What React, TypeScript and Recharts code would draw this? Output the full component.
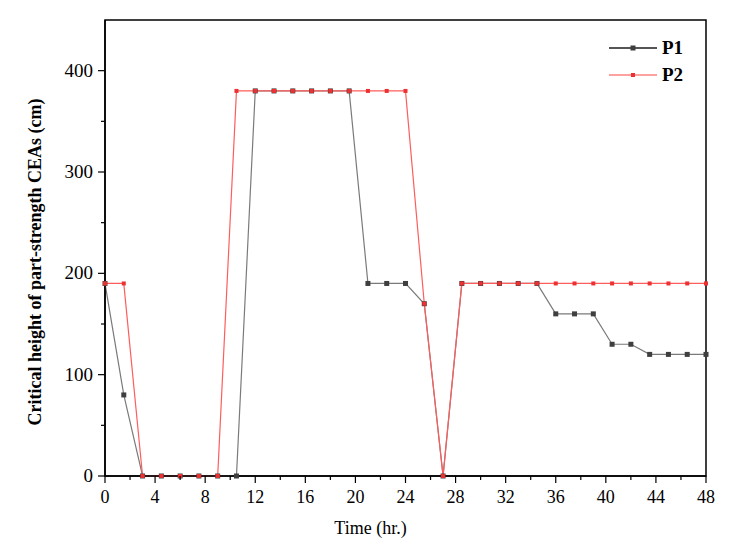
import { Legend, Line, LineChart, ReferenceArea, XAxis, YAxis } from 'recharts'

const TIME = [
  0, 1.5, 3, 4.5, 6, 7.5, 9, 10.5, 12, 13.5, 15, 16.5, 18, 19.5, 21, 22.5, 24,
  25.5, 27, 28.5, 30, 31.5, 33, 34.5, 36, 37.5, 39, 40.5, 42, 43.5, 45, 46.5, 48,
]

const P1 = [
  190, 80, 0, 0, 0, 0, 0, 0, 380, 380, 380, 380, 380, 380, 190, 190, 190,
  170, 0, 190, 190, 190, 190, 190, 160, 160, 160, 130, 130, 120, 120, 120, 120,
]

const P2 = [
  190, 190, 0, 0, 0, 0, 0, 380, 380, 380, 380, 380, 380, 380, 380, 380, 380,
  170, 0, 190, 190, 190, 190, 190, 190, 190, 190, 190, 190, 190, 190, 190, 190,
]

const X_TICKS = [0, 2, 4, 6, 8, 10, 12, 14, 16, 18, 20, 22, 24, 26, 28, 30, 32, 34, 36, 38, 40, 42, 44, 46, 48]
const Y_TICKS = [0, 50, 100, 150, 200, 250, 300, 350, 400]

const SERIES = [
  { key: 'P1', color: '#7a7a7a', legend: '#555555', marker: '#3f3f3f', size: 5 },
  { key: 'P2', color: '#ff5c5c', legend: '#ff4545', marker: '#ee3030', size: 4 },
]

const FONT = '"Liberation Serif", "Times New Roman", serif'

const data = TIME.map((t, i) => ({ t, P1: P1[i], P2: P2[i] }))

function XTick(props: any) {
  const { x, y, payload } = props
  const major = payload.value % 4 === 0
  return (
    <g>
      <line x1={x} y1={y} x2={x} y2={y + (major ? 7 : 4)} stroke="#000" strokeWidth={1.2} />
      {major && (
        <text x={x} y={y + 27} textAnchor="middle" fontFamily={FONT} fontSize={18} fill="#000">
          {payload.value}
        </text>
      )}
    </g>
  )
}

function YTick(props: any) {
  const { x, y, payload } = props
  const major = payload.value % 100 === 0
  return (
    <g>
      <line x1={x} y1={y} x2={x - (major ? 7 : 4)} y2={y} stroke="#000" strokeWidth={1.2} />
      {major && (
        <text x={x - 12} y={y + 6} textAnchor="end" fontFamily={FONT} fontSize={19} fill="#000">
          {payload.value}
        </text>
      )}
    </g>
  )
}

function makeDot(color: string, size: number) {
  return (props: any) => {
    const { cx, cy, index } = props
    return <rect key={index} x={cx - size / 2} y={cy - size / 2} width={size} height={size} fill={color} />
  }
}

function LegendBox() {
  return (
    <div style={{ fontFamily: FONT }}>
      {SERIES.map((s) => (
        <div key={s.key} style={{ display: 'flex', alignItems: 'center', height: 27 }}>
          <svg width={48} height={10} style={{ marginRight: 5 }}>
            <line x1={0} y1={5} x2={48} y2={5} stroke={s.legend} strokeWidth={s.key === 'P1' ? 2 : 1.2} />
            <rect x={24 - s.size / 2} y={5 - s.size / 2} width={s.size} height={s.size} fill={s.marker} />
          </svg>
          <span style={{ fontSize: 19, fontWeight: 'bold', color: '#000' }}>{s.key}</span>
        </div>
      ))}
    </div>
  )
}

export default function App() {
  return (
    <LineChart width={732} height={536} data={data} margin={{ top: 12, right: 34, bottom: 18, left: 0 }}>
      <XAxis
        dataKey="t"
        type="number"
        domain={[0, 48]}
        ticks={X_TICKS}
        interval={0}
        tickSize={0}
        tickMargin={0}
        tickLine={false}
        tick={<XTick />}
        height={50}
        axisLine={{ stroke: '#000', strokeWidth: 1.5 }}
        label={{ value: 'Time (hr.)', position: 'insideBottom', offset: -8, dx: -35, fontFamily: FONT, fontSize: 18, fill: '#000' }}
      />
      <YAxis
        type="number"
        domain={[0, 450]}
        ticks={Y_TICKS}
        interval={0}
        width={97}
        tickSize={0}
        tickMargin={0}
        tickLine={false}
        tick={<YTick />}
        axisLine={{ stroke: '#000', strokeWidth: 1.5 }}
        label={{
          value: 'Critical height of part-strength CEAs (cm)',
          angle: -90,
          position: 'center',
          dx: -22,
          dy: 14,
          fontFamily: FONT,
          fontSize: 18,
          fontWeight: 'bold',
          fill: '#000',
        }}
      />
      <ReferenceArea x1={0} x2={48} y1={0} y2={450} fill="none" stroke="#000" strokeWidth={1.5} />
      {SERIES.map((s) => (
        <Line
          key={s.key}
          dataKey={s.key}
          type="linear"
          stroke={s.color}
          strokeWidth={1.2}
          dot={makeDot(s.marker, s.size)}
          activeDot={false}
          isAnimationActive={false}
        />
      ))}
      <Legend
        layout="horizontal"
        align="center"
        verticalAlign="middle"
        content={<LegendBox />}
        wrapperStyle={{ top: 26, left: 601, width: 110 }}
      />
    </LineChart>
  )
}
